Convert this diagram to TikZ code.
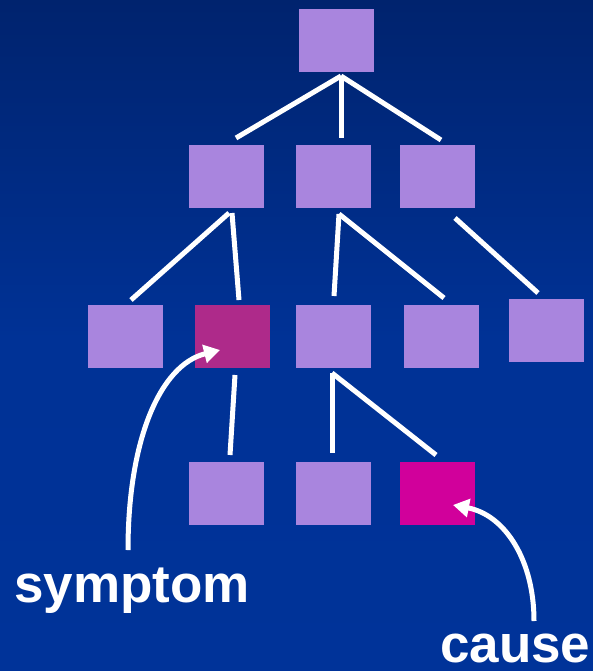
\documentclass[tikz,border=0pt]{standalone}
\usepackage{fontspec}
\setmainfont{Liberation Sans}
\usetikzlibrary{arrows.meta}
\definecolor{bgtop}{HTML}{00236E}
\definecolor{bgbot}{HTML}{003399}
\definecolor{boxfill}{HTML}{A985DE}
\definecolor{symfill}{HTML}{AE2A8A}
\definecolor{causefill}{HTML}{D1009B}
\tikzset{
  treebox/.style={fill=boxfill, draw=none, minimum width=75pt, minimum height=63pt, inner sep=0pt},
  edge/.style={draw=white, line width=5pt},
  pointer/.style={draw=white, line width=5pt, -{Triangle[length=16pt,width=18pt]}},
  caption/.style={text=white, font=\bfseries\fontsize{53}{53}\selectfont, inner sep=0pt, text depth=0pt, anchor=base west}
}
\begin{document}
\begin{tikzpicture}[x=1pt,y=-1pt]
  % background
  \shade[top color=bgtop, bottom color=bgbot, middle color=bgbot!92!bgtop] (0,0) rectangle (593,671);
  \useasboundingbox (0,0) rectangle (593,671);

  % tree nodes
  \node[treebox] (r)   at (336.5,40.5) {};
  \node[treebox] (a)   at (226.5,176.5) {};
  \node[treebox] (b)   at (333.5,176.5) {};
  \node[treebox] (c)   at (437.5,176.5) {};
  \node[treebox] (a1)  at (125.5,336.5) {};
  \node[treebox, fill=symfill] (a2) at (232.5,336.5) {};
  \node[treebox] (b1)  at (333.5,336.5) {};
  \node[treebox] (b2)  at (441.5,336.5) {};
  \node[treebox] (c1)  at (546.5,330.5) {};
  \node[treebox] (s1)  at (226.5,493.5) {};
  \node[treebox] (d1)  at (333.5,493.5) {};
  \node[treebox, fill=causefill] (d2) at (437.5,493.5) {};

  % branch lines (drawn with small gaps from the boxes)
  \coordinate (rj) at (341,76);
  \draw[edge] (rj) -- (236,138);
  \draw[edge] (rj) -- (341,138);
  \draw[edge] (rj) -- (441,140);
  \draw[edge] (229,213) -- (131,300);
  \draw[edge] (232,213) -- (239,300);
  \draw[edge] (339,214) -- (334,296);
  \draw[edge] (339,214) -- (444,298);
  \draw[edge] (455,218) -- (538,293);
  \draw[edge] (235,375) -- (230,455);
  \coordinate (bj) at (332,373);
  \draw[edge] (bj) -- (332,453);
  \draw[edge] (bj) -- (436,455);

  % captions
  \node[caption] (sym) at (14,602) {symptom};
  \node[caption] (cau) at (440,662) {cause};

  % pointers
  \coordinate (symtail) at (128,550);
  \coordinate (cautail) at (534,621);
  \draw[pointer] (symtail) .. controls (128,440) and (160,365) .. (220,350);
  \draw[pointer] (cautail) .. controls (534,560) and (505,515) .. (453,505);
\end{tikzpicture}
\end{document}
